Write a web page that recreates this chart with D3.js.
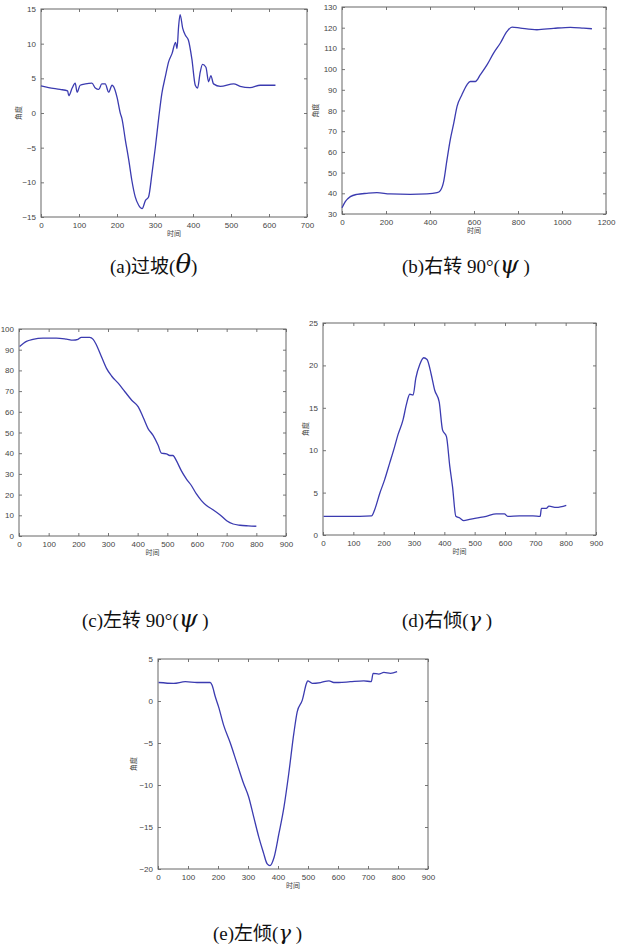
<!DOCTYPE html>
<html>
<head>
<meta charset="utf-8">
<script src="https://cdn.jsdelivr.net/npm/d3@7"></script>
<style>
  body { margin: 0; background: #fff; }
  svg { display: block; }
  .tick text { font-family: 'Liberation Sans', Arial, sans-serif; font-size: 8px; fill: #444; }
  .axis-label { font-family: 'Noto Sans CJK SC', sans-serif; font-size: 7px; fill: #444; }
  .caption { font-family: 'Liberation Serif', 'Noto Sans CJK SC', serif; font-size: 19px; fill: #111; }
</style>
</head>
<body>
<div id="chart"></div>
<script>
// (a) 过坡 - pitch
var aTime  = [0, 20, 50, 70, 73, 82, 90, 95, 103, 117, 134, 143, 152, 160, 169, 178, 187, 191, 200, 209, 213, 222, 231, 239, 248, 257, 266, 275, 283, 292, 301, 310, 318, 327, 336, 345, 354, 358, 362, 366, 373, 380, 388, 397, 406, 412, 419, 425, 434, 441, 447, 454, 472, 507, 524, 550, 577, 617];
var aAngle = [3.9, 3.65, 3.4, 3.2, 2.5, 3.6, 4.3, 3.0, 4.0, 4.2, 4.3, 3.6, 3.4, 4.2, 4.2, 3.0, 4.0, 3.8, 2.3, -0.1, -0.8, -3.9, -6.8, -9.7, -12.1, -13.3, -13.8, -12.6, -12.1, -8.75, -4.9, -0.6, 2.8, 5.2, 7.4, 8.6, 10.2, 9.3, 12.4, 14.2, 12.2, 11.2, 10.5, 7.8, 4.0, 3.6, 5.9, 7.0, 6.6, 4.5, 5.4, 4.2, 3.85, 4.2, 3.85, 3.65, 4.0, 4.0];
var aXTicks = [0, 100, 200, 300, 400, 500, 600, 700];
var aYTicks = [-15, -10, -5, 0, 5, 10, 15];

// (b) 右转 90° - yaw
var bTime  = [0, 15, 38, 68, 113, 159, 218, 310, 386, 432, 447, 462, 477, 492, 508, 523, 545, 568, 583, 606, 629, 659, 689, 720, 750, 773, 811, 886, 962, 1038, 1098, 1136];
var bAngle = [33, 36, 38.4, 39.5, 40, 40.3, 39.7, 39.5, 39.7, 40.3, 41.3, 45.6, 56, 65.8, 73.9, 82, 87.6, 92.4, 94, 94, 97.3, 102, 107.7, 112.6, 118.2, 120.3, 119.8, 119, 119.7, 120.2, 119.8, 119.5];
var bXTicks = [0, 200, 400, 600, 800, 1000, 1200];
var bYTicks = [30, 40, 50, 60, 70, 80, 90, 100, 110, 120, 130];

// (c) 左转 90° - yaw
var cTime  = [2, 25, 47, 81, 126, 160, 182, 199, 210, 238, 250, 261, 278, 295, 312, 335, 357, 380, 402, 418, 435, 452, 469, 480, 497, 508, 519, 530, 547, 564, 581, 598, 615, 632, 655, 677, 700, 722, 745, 773, 800];
var cAngle = [91.5, 94, 95, 95.6, 95.6, 95.1, 94.6, 95, 96, 96, 95, 92.3, 86.6, 81, 77.3, 73.7, 69.7, 65.6, 62.4, 57.5, 51.9, 48.6, 43.8, 40, 39.7, 38.9, 38.9, 36.5, 31.6, 27.6, 24.4, 20.3, 17.1, 14.7, 12.6, 10.3, 7.4, 5.8, 5.2, 4.9, 4.7];
var cXTicks = [0, 100, 200, 300, 400, 500, 600, 700, 800, 900];
var cYTicks = [0, 10, 20, 30, 40, 50, 60, 70, 80, 90, 100];

// (d) 右倾 - roll
var dTime  = [2, 55, 121, 160, 170, 187, 203, 220, 236, 247, 264, 275, 286, 297, 306, 319, 332, 343, 357, 368, 383, 394, 407, 418, 427, 438, 451, 464, 483, 505, 538, 571, 598, 609, 648, 692, 716, 720, 736, 745, 769, 802];
var dAngle = [2.2, 2.2, 2.2, 2.25, 2.95, 4.9, 6.5, 8.5, 10.4, 11.8, 13.6, 15.4, 16.6, 16.5, 18.5, 20.1, 20.9, 20.7, 18.9, 17.1, 15.7, 12.4, 11.6, 8.1, 5.7, 2.2, 2.0, 1.7, 1.85, 2.0, 2.2, 2.5, 2.5, 2.2, 2.25, 2.25, 2.2, 3.15, 3.15, 3.4, 3.25, 3.5];
var dXTicks = [0, 100, 200, 300, 400, 500, 600, 700, 800, 900];
var dYTicks = [0, 5, 10, 15, 20, 25];

// (e) 左倾 - roll
var eTime  = [2, 52, 91, 130, 174, 180, 191, 202, 219, 241, 263, 285, 302, 319, 336, 351, 364, 373, 387, 403, 420, 436, 453, 464, 481, 495, 499, 514, 542, 570, 586, 603, 641, 686, 711, 717, 736, 753, 775, 797];
var eAngle = [2.2, 2.1, 2.3, 2.2, 2.2, 1.9, 0.5, -0.7, -2.9, -5.0, -7.4, -9.8, -11.4, -13.8, -16.2, -18, -19.4, -19.6, -18.6, -15.8, -12.6, -8.6, -3.8, -1.3, 0.1, 2.1, 2.4, 2.1, 2.2, 2.4, 2.2, 2.2, 2.3, 2.4, 2.3, 3.3, 3.2, 3.4, 3.3, 3.5];
var eXTicks = [0, 100, 200, 300, 400, 500, 600, 700, 800, 900];
var eYTicks = [-20, -15, -10, -5, 0, 5];

var svgWidth = 622;
var svgHeight = 948;

var svg = d3.select('#chart')
  .append('svg')
  .attr('width', svgWidth)
  .attr('height', svgHeight);

// one matlab-style subplot
function drawPanel(p) {
  var w = p.right - p.left;
  var h = p.bottom - p.top;

  var g = svg.append('g')
    .attr('transform', `translate(${p.left}, ${p.top})`);

  var x = d3.scaleLinear().domain(d3.extent(p.xTicks)).range([0, w]);
  var y = d3.scaleLinear().domain(d3.extent(p.yTicks)).range([h, 0]);

  g.append('rect')
    .attr('width', w)
    .attr('height', h)
    .attr('fill', '#fff');

  // ticks inward on all four sides, plain numbers (no thousands comma)
  var fmt = d3.format('d');
  var bottomAxis = d3.axisBottom(x).tickValues(p.xTicks).tickFormat(fmt).tickSizeInner(-3).tickSizeOuter(0).tickPadding(5);
  var topAxis = d3.axisTop(x).tickValues(p.xTicks).tickSizeInner(-3).tickSizeOuter(0).tickFormat('');
  var leftAxis = d3.axisLeft(y).tickValues(p.yTicks).tickFormat(fmt).tickSizeInner(-3).tickSizeOuter(0).tickPadding(5);
  var rightAxis = d3.axisRight(y).tickValues(p.yTicks).tickSizeInner(-3).tickSizeOuter(0).tickFormat('');

  var axes = [
    g.append('g').attr('transform', `translate(0, ${h})`).call(bottomAxis),
    g.append('g').call(topAxis),
    g.append('g').call(leftAxis),
    g.append('g').attr('transform', `translate(${w}, 0)`).call(rightAxis)
  ];
  axes.forEach(function(a) {
    a.select('.domain').remove();
    a.selectAll('.tick line').attr('stroke', '#777');
  });

  g.append('rect')
    .attr('width', w)
    .attr('height', h)
    .attr('fill', 'none')
    .attr('stroke', '#666')
    .attr('stroke-width', 1);

  var line = d3.line()
    .x(d => x(d[0]))
    .y(d => y(d[1]))
    .curve(d3.curveMonotoneX);

  g.append('path')
    .datum(d3.zip(p.time, p.angle))
    .attr('d', line)
    .attr('fill', 'none')
    .attr('stroke', '#3b3bb0')
    .attr('stroke-width', 1.3);

  g.append('text')
    .attr('class', 'axis-label')
    .attr('x', w / 2)
    .attr('y', h + 19)
    .attr('text-anchor', 'middle')
    .text('时间');

  if (p.yLabelX !== null) {
    g.append('text')
      .attr('class', 'axis-label')
      .attr('transform', `translate(${p.yLabelX - p.left}, ${h / 2}) rotate(-90)`)
      .attr('text-anchor', 'middle')
      .text('角度');
  }
}

drawPanel({ left: 41, right: 307, top: 9, bottom: 217, xTicks: aXTicks, yTicks: aYTicks, time: aTime, angle: aAngle, yLabelX: 21 });
drawPanel({ left: 342, right: 606, top: 7, bottom: 214, xTicks: bXTicks, yTicks: bYTicks, time: bTime, angle: bAngle, yLabelX: 318 });
drawPanel({ left: 19, right: 286, top: 329, bottom: 536, xTicks: cXTicks, yTicks: cYTicks, time: cTime, angle: cAngle, yLabelX: null });
drawPanel({ left: 323, right: 596, top: 323, bottom: 535, xTicks: dXTicks, yTicks: dYTicks, time: dTime, angle: dAngle, yLabelX: 308 });
drawPanel({ left: 158, right: 428, top: 659, bottom: 869, xTicks: eXTicks, yTicks: eYTicks, time: eTime, angle: eAngle, yLabelX: 136 });

// captions
var captions = [
  { x: 110, y: 273, pre: '(a)过坡(', sym: 'θ', post: ')', big: 26 },
  { x: 402, y: 273, pre: '(b)右转 90°(', sym: 'ψ', post: ' )', big: 24 },
  { x: 82, y: 627, pre: '(c)左转 90°(', sym: 'ψ', post: ' )', big: 24 },
  { x: 402, y: 627, pre: '(d)右倾(', sym: 'γ', post: ' )', big: 21 },
  { x: 213, y: 940, pre: '(e)左倾(', sym: 'γ', post: ' )', big: 21 }
];

captions.forEach(function(c) {
  var t = svg.append('text')
    .attr('class', 'caption')
    .attr('x', c.x)
    .attr('y', c.y);
  t.append('tspan').text(c.pre);
  t.append('tspan')
    .attr('font-style', 'italic')
    .attr('font-size', c.big + 'px')
    .attr('font-family', 'DejaVu Serif, serif')
    .text(c.sym);
  t.append('tspan').text(c.post);
});
</script>
</body>
</html>
